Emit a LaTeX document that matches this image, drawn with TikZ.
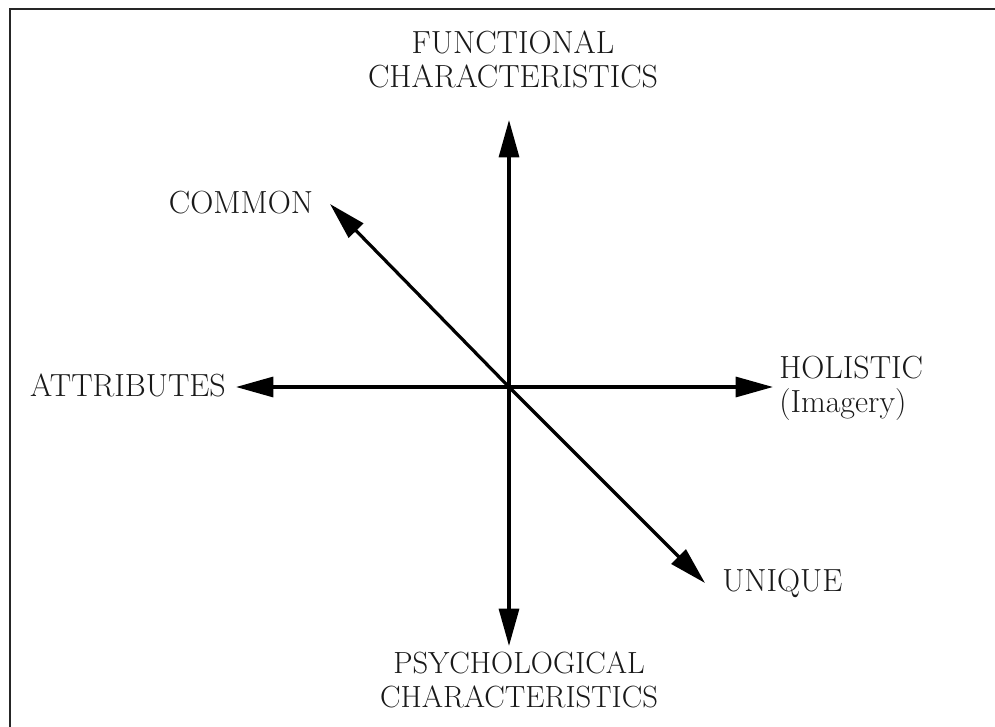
\documentclass[tikz,border=0pt]{standalone}
\usetikzlibrary{arrows.meta}
\tikzset{
  axis/.style={line width=2.4pt, -{Triangle[length=28pt,width=15pt]}},
  lbl/.style={font=\fontsize{24}{25.5}\selectfont, text=black!90, inner sep=0pt}
}
\begin{document}
\begin{tikzpicture}[x=0.75pt,y=-0.75pt]
  \useasboundingbox (0,0) rectangle (995,727);
  \draw[line width=1.5pt, black!85] (995,9) -- (10,9) -- (10,727);
  % centre and arrow tips
  \coordinate (O) at (509,387);
  \coordinate (up) at (509,120);
  \coordinate (down) at (509,646);
  \coordinate (left) at (236,387);
  \coordinate (right) at (773,387);
  \coordinate (ul) at (330,204);
  \coordinate (dr) at (705,583);
  \foreach \t in {up,down,left,right,ul,dr} \draw[axis] (O) -- (\t);
  % labels
  \node[lbl, align=center] (func) at (513,59) {FUNCTIONAL\\CHARACTERISTICS};
  \node[lbl, align=center, font=\fontsize{23}{25.5}\selectfont] (psych) at (519,680) {PSYCHOLOGICAL\\CHARACTERISTICS};
  \node[lbl] (common) at (241,203) {COMMON};
  \node[lbl] (attr) at (128,385) {ATTRIBUTES};
  \node[lbl, align=left, anchor=west] (holi) at (779,388) {HOLISTIC\\(Imagery)};
  \node[lbl, anchor=west] (uniq) at (722,583) {UNIQUE};
\end{tikzpicture}
\end{document}
